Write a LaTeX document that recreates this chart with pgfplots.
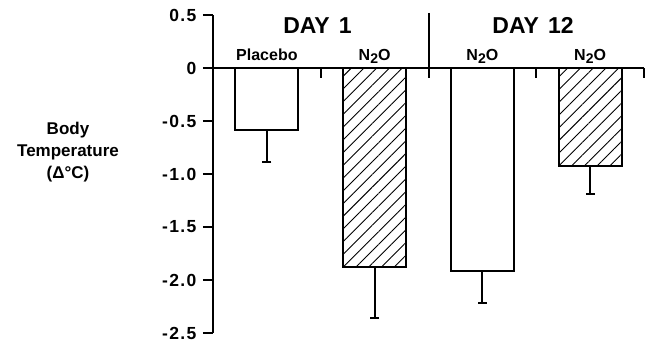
\documentclass[border=0pt]{standalone}
\usepackage{fontspec}
\setmainfont{Liberation Sans}
\newfontfamily\widefont[LetterSpace=8]{Liberation Sans}
\usepackage{pgfplots}
\pgfplotsset{compat=1.18}
\usetikzlibrary{patterns.meta}
\begin{document}
\begin{tikzpicture}[x=1pt,y=1pt]
\begin{axis}[
  at={(213pt,10pt)}, anchor=south west,
  scale only axis, width=431pt, height=318pt,
  xmin=-0.5, xmax=3.5, ymin=-2.5, ymax=0.5,
  axis lines*=left,
  x axis line style={draw=none},
  y axis line style={line width=2.2pt},
  xtick=\empty,
  ytick={-2.5,-2,-1.5,-1,-0.5,0,0.5},
  yticklabels={-2.5,-2.0,-1.5,-1.0,-0.5,0,0.5},
  tick align=outside, major tick length=10pt,
  every tick/.style={black, line width=2.2pt},
  yticklabel style={font=\widefont\fontsize{17.5}{18}\selectfont\bfseries, xshift=-3pt},
  clip=false,
  ybar, bar width=0.585,
]
\addplot[bar shift=0pt, fill=white, draw=black, line width=2pt,
  error bars/error bar style={line width=2pt, black},
  error bars/.cd, y dir=minus, y explicit,
  error mark options={rotate=90, mark size=4.5pt, line width=2pt, black}]
  coordinates {(0,-0.585) +- (0,0.30) (2,-1.915) +- (0,0.305)};
\addplot[bar shift=0pt, pattern={Lines[angle=45,distance=9pt,line width=0.9pt]}, draw=black, line width=2pt,
  error bars/error bar style={line width=2pt, black},
  error bars/.cd, y dir=minus, y explicit,
  error mark options={rotate=90, mark size=4.5pt, line width=2pt, black}]
  coordinates {(1,-1.875) +- (0,0.485) (3,-0.925) +- (0,0.265)};
\draw[line width=2.2pt] (axis cs:-0.5,0) -- (axis cs:3.5,0);
\draw[line width=2pt] (axis cs:0.5,0) -- (axis cs:0.5,-0.094);
\draw[line width=2pt] (axis cs:2.5,0) -- (axis cs:2.5,-0.094);
\draw[line width=2pt] (axis cs:3.5,0) -- (axis cs:3.5,-0.094);
\draw[line width=2pt] (axis cs:1.5,0.52) -- (axis cs:1.5,-0.094);
\node[anchor=base, font=\fontsize{16}{16}\selectfont\bfseries] at (axis cs:0,0.075) {Placebo};
\node[anchor=base, font=\fontsize{16}{16}\selectfont\bfseries] at (axis cs:1,0.075) {N\raisebox{-3.5pt}{\fontsize{14}{14}\selectfont 2}O};
\node[anchor=base, font=\fontsize{16}{16}\selectfont\bfseries] at (axis cs:2,0.075) {N\raisebox{-3.5pt}{\fontsize{14}{14}\selectfont 2}O};
\node[anchor=base, font=\fontsize{16}{16}\selectfont\bfseries] at (axis cs:3,0.075) {N\raisebox{-3.5pt}{\fontsize{14}{14}\selectfont 2}O};
\node[anchor=base, font=\fontsize{23}{23}\selectfont\bfseries] at (axis cs:0.47,0.33) {DAY\hspace{0.4em}1};
\node[anchor=base, font=\fontsize{23}{23}\selectfont\bfseries] at (axis cs:2.47,0.33) {DAY\hspace{0.4em}12};
\node[align=center, font=\fontsize{17}{22}\selectfont\bfseries] at ([xshift=-145pt]axis cs:-0.5,-0.79) {Body\\Temperature\\(Δ°C)};
\end{axis}
\pgfresetboundingbox
\useasboundingbox (0,0) rectangle (645pt,343pt);
\end{tikzpicture}
\end{document}
